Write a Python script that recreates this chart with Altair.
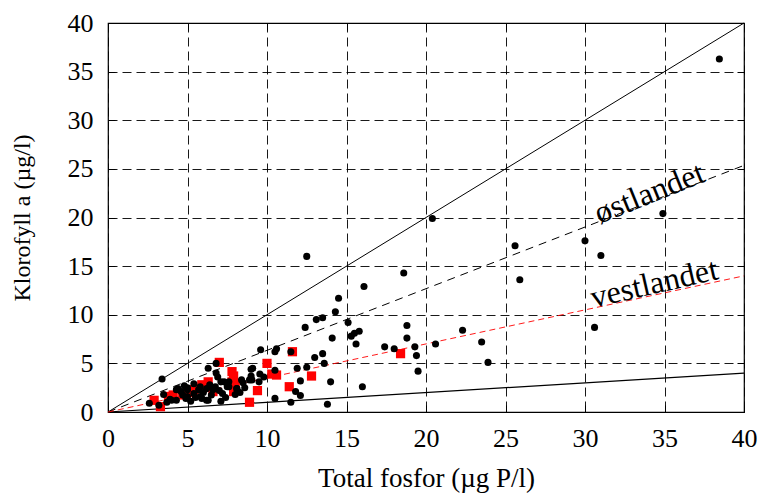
import altair as alt
import pandas as pd

# ---- data ----
red_x = [2.9, 3.3, 3.8, 4.1, 4.7, 5.0, 5.4, 5.8, 5.9, 6.3, 6.6, 7.0, 7.8, 7.9, 7.8, 7.9, 8.0,
         8.9, 9.4, 10.0, 10.3, 10.6, 11.4, 11.6, 12.8, 18.4]
red_y = [1.2, 0.55, 1.6, 1.75, 1.75, 2.0, 2.3, 2.4, 2.8, 3.1, 2.1, 5.1, 4.15, 3.7, 3.1, 2.1, 2.95,
         1.0, 2.2, 5.0, 3.9, 3.8, 2.6, 6.2, 3.7, 6.0]

black_x = [38.45, 34.9, 30.0, 31.0, 30.6, 20.4, 25.6, 25.9, 18.6, 18.8, 18.8, 17.4, 18.0, 19.3, 19.4,
           19.5, 20.6, 22.3, 23.5, 23.9,
           12.5, 16.1, 14.5, 14.3, 13.1, 13.5, 12.4, 15.1, 15.3, 15.5, 15.8, 15.6, 14.1, 13.5, 13.0,
           13.6, 12.5, 11.9, 9.6, 10.6, 10.5, 11.5, 9.55, 9.8, 9.1, 9.05, 12.1, 11.8, 12.1, 10.5,
           11.5, 13.8, 14.0, 16.0,
           6.8, 6.8, 6.3, 9.0, 9.0, 8.9, 8.6, 8.1, 8.4, 3.4, 8.5, 10.5, 9.5,
           2.6, 3.2, 3.5, 3.9, 4.0, 4.3, 4.4, 4.7, 5.0, 5.0, 5.4, 5.4, 5.0, 5.8, 5.7, 5.9, 6.2,
           6.2, 6.5, 6.6, 6.75, 6.9, 7.1, 7.2, 7.3, 7.5, 7.6, 7.1, 7.6, 8.1, 4.9, 4.3, 5.2, 6.3,
           5.8, 4.6, 6.0, 7.0, 5.5, 7.4, 8.0, 4.8, 6.4, 3.7, 8.3]
black_y = [36.3, 20.4, 17.6, 16.1, 8.7, 19.9, 17.1, 13.6, 14.3, 8.9, 7.6, 6.7, 6.5, 6.7, 5.8,
           4.2, 7.0, 8.4, 7.2, 5.1,
           16.0, 12.9, 11.7, 10.3, 9.5, 9.7, 8.7, 9.2, 7.8, 8.1, 8.3, 7.0, 7.6, 6.0, 5.6,
           5.0, 4.6, 4.5, 6.4, 6.5, 6.2, 6.2, 3.9, 3.6, 4.5, 3.3, 3.2, 2.1, 1.7, 1.4,
           1.0, 0.8, 3.1, 2.6,
           5.0, 4.0, 4.5, 4.4, 3.7, 3.3, 2.5, 2.4, 3.3, 3.4, 3.0, 4.3, 3.1,
           0.9, 0.7, 1.8, 1.3, 1.2, 2.3, 2.4, 1.75, 2.5, 2.3, 2.9, 1.9, 1.6, 1.6, 2.3, 1.4, 1.2,
           2.4, 1.75, 2.3, 2.6, 3.6, 1.1, 1.9, 3.1, 2.6, 3.1, 3.1, 2.6, 2.4, 1.4, 1.2, 1.1, 1.2,
           2.6, 2.1, 2.0, 2.2, 1.5, 1.5, 1.8, 2.7, 2.8, 1.0, 2.0]

line_names = ["1:1", "1:10", "østlandet", "vestlandet"]
line_slopes = [1.0, 0.1, 0.634, 0.35]
line_x = [0, 40]

label_names = ["østlandet", "vestlandet"]
label_x = [34.05, 34.35]
label_y = [22.5, 13.2]

ticks = [0, 5, 10, 15, 20, 25, 30, 35, 40]
x_title = "Total fosfor (µg P/l)"
y_title = "Klorofyll a (µg/l)"

FONT = "Liberation Serif"

red_df = pd.DataFrame({"x": red_x, "y": red_y})
black_df = pd.DataFrame({"x": black_x, "y": black_y})
lines_df = pd.DataFrame(
    [{"name": n, "x": xx, "y": s * xx} for n, s in zip(line_names, line_slopes) for xx in line_x]
)
labels_df = pd.DataFrame({"label": label_names, "x": label_x, "y": label_y})

scale = alt.Scale(domain=[0, 40], nice=False, zero=True)

x_axis = alt.Axis(values=ticks, grid=True, gridColor="black", gridDash=[9, 5], gridWidth=1,
                  gridOpacity=0.9, ticks=False, domain=False, labelFont=FONT, labelFontSize=26,
                  labelColor="black", labelPadding=13, labelFlush=False, titleFont=FONT,
                  titleFontSize=27, titleFontWeight="normal", titleColor="black",
                  titlePadding=14, format="d")
y_axis = alt.Axis(values=ticks, grid=True, gridColor="black", gridDash=[9, 5], gridWidth=1,
                  gridOpacity=0.9, ticks=False, domain=False, labelFont=FONT, labelFontSize=26,
                  labelColor="black", labelPadding=15, labelFlush=False, titleFont=FONT,
                  titleFontSize=24, titleFontWeight="normal", titleColor="black",
                  titlePadding=33, format="d")

X = alt.X("x:Q", scale=scale, axis=x_axis, title=x_title)
Y = alt.Y("y:Q", scale=scale, axis=y_axis, title=y_title)

styles = {
    "1:1": dict(color="black", strokeWidth=1),
    "1:10": dict(color="black", strokeWidth=1.2),
    "østlandet": dict(color="black", strokeWidth=1, strokeDash=[8, 6]),
    "vestlandet": dict(color="#ff0000", strokeWidth=0.9, strokeDash=[6, 4]),
}

line_layers = [
    alt.Chart(lines_df).transform_filter(alt.datum.name == n).mark_line(**styles[n]).encode(x=X, y=Y)
    for n in line_names
]

red_layer = alt.Chart(red_df).mark_square(size=85, color="#ff0000", opacity=1).encode(x=X, y=Y)
black_layer = alt.Chart(black_df).mark_circle(size=50, color="black", opacity=1).encode(x=X, y=Y)

text_layers = [
    alt.Chart(labels_df).transform_filter(alt.datum.label == "østlandet").mark_text(
        font=FONT, fontSize=32, angle=338, color="black", align="center", baseline="middle"
    ).encode(x=X, y=Y, text="label:N"),
    alt.Chart(labels_df).transform_filter(alt.datum.label == "vestlandet").mark_text(
        font=FONT, fontSize=32, angle=347, color="black", align="center", baseline="middle"
    ).encode(x=X, y=Y, text="label:N"),
]

main = alt.layer(*line_layers, red_layer, *text_layers, black_layer)


def tick_axis(orient):
    return alt.Axis(orient=orient, values=ticks, offset=-7, tickSize=7, tickColor="black",
                    tickWidth=1, labels=False, domain=False, grid=False, title=None)


ticks_bl = alt.Chart(red_df).mark_point(opacity=0).encode(
    x=alt.X("x:Q", scale=scale, axis=tick_axis("bottom")),
    y=alt.Y("y:Q", scale=scale, axis=tick_axis("left")),
)
ticks_tr = alt.Chart(red_df).mark_point(opacity=0).encode(
    x=alt.X("x:Q", scale=scale, axis=tick_axis("top")),
    y=alt.Y("y:Q", scale=scale, axis=tick_axis("right")),
)

chart = alt.layer(main, ticks_bl, ticks_tr).resolve_scale(
    x="independent", y="independent"
).properties(
    width=636, height=389,
    autosize=alt.AutoSizeParams(type="none"),
    padding={"left": 108, "top": 23, "right": 17, "bottom": 81},
    background="white",
).configure_view(stroke="black", strokeWidth=1.2)

chart.save("out.html", embed_options={"renderer": "svg", "actions": False})
